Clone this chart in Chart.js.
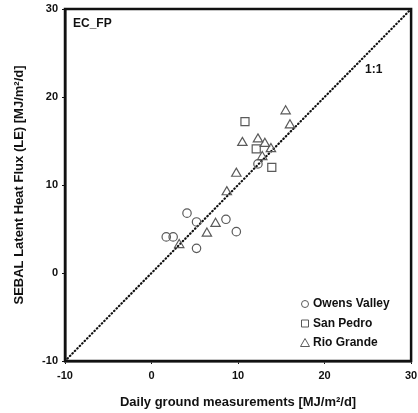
<!DOCTYPE html>
<html>
<head>
<meta charset="utf-8">
<script src="https://cdn.jsdelivr.net/npm/chart.js@4.4.1/dist/chart.umd.min.js"></script>
<style>
    html, body { margin: 0; padding: 0; background: #fff; }
    #wrap { width: 418px; height: 413px; }
</style>
</head>
<body>
<div id="wrap"><canvas id="scatterChart" width="418" height="413"></canvas></div>
<script>
// Series (x = ground, y = SEBAL)
const seriesNames = ["Owens Valley", "San Pedro", "Rio Grande"];

const owensX = [1.7, 2.5, 4.1, 5.2, 5.2, 8.6, 9.8, 12.3];
const owensY = [4.1, 4.1, 6.8, 5.8, 2.8, 6.1, 4.7, 12.4];

const sanPedroX = [10.8, 12.1, 13.9];
const sanPedroY = [17.2, 14.1, 12.0];

const rioX = [15.5, 16.0, 10.5, 12.3, 13.1, 13.8, 12.8, 9.8, 8.7, 7.4, 6.4, 3.2];
const rioY = [18.4, 16.8, 14.8, 15.2, 14.7, 14.1, 13.2, 11.3, 9.2, 5.6, 4.5, 3.2];

const oneToOne = [-10, 30];
const axisMin = -10;
const axisMax = 30;
const tickStep = 10;

function toPoints(xs, ys) {
    return xs.map((x, i) => ({ x: x, y: ys[i] }));
}

const markerColor = "#5a5a5a";
const fontFamily = "'Liberation Sans', Arial, sans-serif";

// frame, panel label, 1:1 label and the legend in the lower right
const decorations = {
    id: "decorations",
    afterDraw(chart) {
        let ctx = chart.ctx;
        let a = chart.chartArea;
        ctx.save();
        ctx.strokeStyle = "#111";
        ctx.lineWidth = 2.5;
        ctx.strokeRect(a.left, a.top, a.right - a.left, a.bottom - a.top);

        ctx.fillStyle = "#111";
        ctx.font = "bold 12px " + fontFamily;
        ctx.textBaseline = "middle";
        ctx.textAlign = "left";
        ctx.fillText("EC_FP", a.left + 8, a.top + 15);
        ctx.fillText("1:1", a.left + 300, a.top + 61);

        let styles = ["circle", "rect", "triangle"];
        let lx = a.left + 240;
        let ly = a.bottom - 57;
        seriesNames.forEach((name, i) => {
            let y = ly + i * 19.5;
            ctx.strokeStyle = markerColor;
            ctx.lineWidth = 1;
            ctx.beginPath();
            if (styles[i] === "circle") {
                ctx.arc(lx, y, 3.5, 0, Math.PI * 2);
            } else if (styles[i] === "rect") {
                ctx.rect(lx - 3.5, y - 3.5, 7, 7);
            } else {
                ctx.moveTo(lx, y - 4.5);
                ctx.lineTo(lx + 4.5, y + 3.5);
                ctx.lineTo(lx - 4.5, y + 3.5);
                ctx.closePath();
            }
            ctx.stroke();
            ctx.fillStyle = "#111";
            ctx.font = "bold 12px " + fontFamily;
            ctx.fillText(name, lx + 8, y);
        });
        ctx.restore();
    }
};

let ctx = document.getElementById("scatterChart").getContext("2d");

new Chart(ctx, {
    type: "scatter",
    data: {
        datasets: [
            {
                label: seriesNames[0],
                data: toPoints(owensX, owensY),
                pointStyle: "circle",
                pointRadius: 4.2,
                borderColor: markerColor,
                backgroundColor: "rgba(0,0,0,0)",
                borderWidth: 1.2
            },
            {
                label: seriesNames[1],
                data: toPoints(sanPedroX, sanPedroY),
                pointStyle: "rect",
                pointRadius: 5.7,
                borderColor: markerColor,
                backgroundColor: "rgba(0,0,0,0)",
                borderWidth: 1.2
            },
            {
                label: seriesNames[2],
                data: toPoints(rioX, rioY),
                pointStyle: "triangle",
                pointRadius: 5.4,
                borderColor: markerColor,
                backgroundColor: "rgba(0,0,0,0)",
                borderWidth: 1.2
            },
            {
                type: "line",
                label: "1:1",
                data: toPoints(oneToOne, oneToOne),
                borderColor: "#111",
                borderWidth: 2.2,
                borderDash: [0.5, 3],
                borderCapStyle: "round",
                pointRadius: 0,
                fill: false
            }
        ]
    },
    options: {
        responsive: false,
        animation: false,
        layout: { padding: { top: 9, right: 5, left: 0, bottom: 0 } },
        plugins: {
            legend: { display: false },
            tooltip: { enabled: false }
        },
        scales: {
            x: {
                type: "linear",
                min: axisMin,
                max: axisMax,
                afterFit: s => { s.height = 52; s.paddingRight = 0; s.paddingLeft = 0; },
                ticks: {
                    stepSize: tickStep,
                    color: "#111",
                    font: { family: fontFamily, size: 11, weight: "bold" },
                    padding: 5
                },
                grid: {
                    drawOnChartArea: false,
                    drawTicks: true,
                    tickLength: 3,
                    color: "#111"
                },
                border: { color: "#111", width: 2.5 },
                title: {
                    display: true,
                    text: "Daily ground measurements [MJ/m²/d]",
                    color: "#111",
                    font: { family: fontFamily, size: 13, weight: "bold" },
                    padding: { top: 10, bottom: 3 }
                }
            },
            y: {
                type: "linear",
                min: axisMin,
                max: axisMax,
                afterFit: s => { s.width = 65; s.paddingTop = 0; s.paddingBottom = 0; },
                ticks: {
                    stepSize: tickStep,
                    color: "#111",
                    font: { family: fontFamily, size: 11, weight: "bold" },
                    padding: 4
                },
                grid: {
                    drawOnChartArea: false,
                    drawTicks: true,
                    tickLength: 3,
                    color: "#111"
                },
                border: { color: "#111", width: 2.5 },
                title: {
                    display: true,
                    text: "SEBAL Latent Heat Flux (LE) [MJ/m²/d]",
                    color: "#111",
                    font: { family: fontFamily, size: 13, weight: "bold" },
                    padding: { top: 12, bottom: 4 }
                }
            }
        }
    },
    plugins: [decorations]
});
</script>
</body>
</html>
